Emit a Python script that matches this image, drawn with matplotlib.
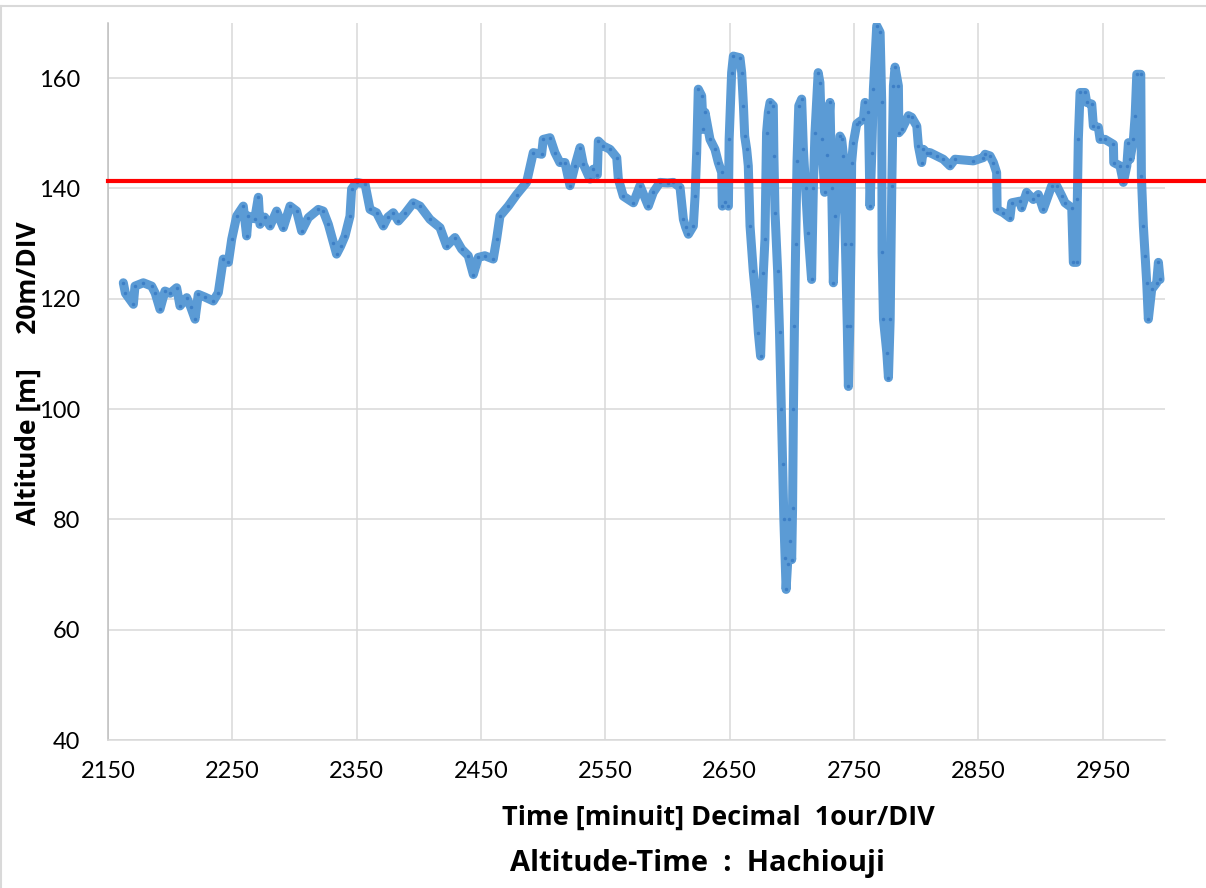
import matplotlib.pyplot as plt

plt.rcParams['font.family'] = ['Lato', 'DejaVu Sans']

# Altitude log: time [min] and altitude [m]
time_min = [
    2162.3, 2164.0, 2170.4, 2171.7, 2178.4, 2185.1, 2188.0, 2191.8, 2195.8, 2200.0,
    2205.2, 2207.9, 2213.3, 2216.5, 2220.0, 2222.6, 2228.0, 2234.7, 2238.7, 2242.7,
    2246.8, 2249.5, 2253.5, 2258.8, 2261.5, 2262.8, 2268.0, 2270.9, 2272.2, 2276.0,
    2280.3, 2285.6, 2291.0, 2296.4, 2301.7, 2305.7, 2311.1, 2319.1, 2323.1, 2327.2,
    2331.2, 2333.8, 2337.0, 2340.6, 2344.6, 2345.9, 2349.9, 2356.7, 2360.7, 2366.0,
    2371.4, 2375.0, 2379.4, 2383.5, 2389.0, 2395.5, 2400.9, 2408.9, 2417.0, 2422.3,
    2429.0, 2434.4, 2439.7, 2443.8, 2447.8, 2453.0, 2459.8, 2462.5, 2465.2, 2471.9,
    2478.6, 2486.6, 2492.0, 2498.7, 2500.0, 2505.4, 2509.4, 2513.4, 2517.5, 2521.5,
    2525.5, 2529.6, 2532.2, 2537.6, 2540.3, 2543.5, 2544.3, 2548.3, 2553.7, 2559.1,
    2560.4, 2564.4, 2572.5, 2577.8, 2584.5, 2588.5, 2593.9, 2600.0, 2604.6, 2610.0,
    2612.7, 2614.5, 2616.7, 2620.7, 2622.1, 2623.4, 2624.7, 2627.4, 2628.7, 2630.1,
    2634.1, 2638.1, 2640.8, 2643.5, 2644.0, 2646.5, 2648.9, 2649.5, 2651.5, 2652.9,
    2658.2, 2659.6, 2661.0, 2662.0, 2663.6, 2664.9, 2666.3, 2668.9, 2671.6, 2673.0,
    2674.8, 2677.0, 2678.3, 2679.6, 2681.0, 2682.4, 2685.0, 2685.5, 2686.4, 2688.5,
    2690.0, 2691.5, 2692.5, 2693.5, 2694.5, 2695.3, 2696.5, 2697.5, 2698.5, 2699.8,
    2700.5, 2701.2, 2702.0, 2703.0, 2704.1, 2705.5, 2707.8, 2709.2, 2711.0, 2713.0,
    2715.8, 2717.2, 2718.5, 2721.1, 2722.5, 2723.9, 2726.3, 2728.0, 2730.6, 2732.0,
    2733.3, 2735.0, 2738.6, 2740.0, 2741.4, 2743.0, 2744.5, 2745.4, 2746.5, 2747.5,
    2748.0, 2749.4, 2752.1, 2753.7, 2757.5, 2758.8, 2761.5, 2762.8, 2764.2, 2765.5,
    2768.2, 2770.9, 2772.2, 2772.5, 2773.6, 2776.3, 2777.6, 2779.0, 2780.3, 2781.6,
    2782.9, 2785.6, 2786.0, 2788.3, 2793.7, 2796.3, 2800.4, 2801.7, 2804.3, 2805.7,
    2808.4, 2811.0, 2816.4, 2821.7, 2827.1, 2831.1, 2845.9, 2853.9, 2855.3, 2859.3,
    2862.0, 2864.6, 2865.0, 2870.0, 2875.3, 2876.7, 2883.4, 2884.7, 2888.7, 2894.1,
    2898.1, 2902.1, 2908.9, 2912.9, 2916.9, 2919.6, 2925.0, 2926.3, 2929.0, 2929.5,
    2930.3, 2931.7, 2935.7, 2937.0, 2941.1, 2942.4, 2946.4, 2947.8, 2951.8, 2958.5,
    2958.8, 2963.8, 2966.5, 2969.3, 2970.6, 2971.9, 2974.6, 2976.0, 2977.3, 2980.5,
    2981.0, 2982.6, 2984.0, 2985.3, 2986.6, 2989.3, 2993.3, 2994.7, 2996.0,
]
altitude_m = [
    122.9, 121.0, 119.0, 122.3, 122.9, 122.3, 121.0, 118.1, 121.4, 121.0,
    122.0, 118.7, 120.2, 118.5, 116.3, 120.8, 120.3, 119.6, 121.1, 127.2,
    126.6, 130.8, 135.0, 136.8, 131.4, 135.0, 134.5, 138.4, 133.5, 134.8,
    133.2, 135.9, 132.9, 136.8, 135.9, 132.3, 134.7, 136.2, 135.9, 133.5,
    130.2, 128.1, 129.5, 131.4, 135.0, 139.9, 141.1, 140.8, 136.2, 135.6,
    133.2, 134.8, 135.6, 134.1, 135.5, 137.4, 136.8, 134.4, 132.9, 129.6,
    131.1, 129.0, 127.8, 124.4, 127.5, 127.8, 127.2, 130.8, 135.0, 136.8,
    138.9, 141.1, 146.5, 146.2, 148.9, 149.2, 146.5, 144.7, 144.7, 140.5,
    144.1, 147.4, 144.4, 141.7, 143.5, 142.5, 148.6, 147.7, 147.1, 145.6,
    141.7, 138.6, 137.4, 140.5, 136.8, 139.3, 141.1, 141.0, 141.1, 140.2,
    134.4, 133.0, 131.7, 133.2, 138.6, 146.5, 158.0, 156.8, 150.7, 153.8,
    148.9, 147.1, 144.7, 142.9, 136.8, 137.5, 136.8, 148.9, 161.0, 164.0,
    163.7, 161.0, 155.0, 149.5, 147.1, 144.1, 133.2, 125.0, 118.7, 113.8,
    109.6, 124.7, 130.8, 150.1, 153.8, 155.6, 155.0, 145.9, 135.6, 125.0,
    114.0, 100.0, 90.0, 80.0, 73.0, 67.3, 72.0, 80.0, 76.0, 72.7,
    82.0, 100.0, 115.0, 130.0, 145.0, 155.0, 156.2, 147.1, 140.0, 132.0,
    123.5, 140.0, 150.0, 161.0, 159.2, 148.9, 139.3, 146.0, 155.6, 140.0,
    122.9, 135.0, 149.5, 148.9, 145.9, 130.0, 115.0, 104.1, 115.0, 130.0,
    144.7, 148.3, 151.7, 152.0, 152.6, 155.6, 153.8, 136.8, 146.5, 158.0,
    169.5, 168.3, 155.6, 128.4, 116.3, 110.2, 105.7, 116.3, 140.5, 158.6,
    162.0, 158.6, 150.1, 150.7, 153.2, 152.9, 151.3, 147.7, 144.7, 147.1,
    146.5, 146.5, 145.9, 145.3, 144.1, 145.3, 145.0, 145.6, 146.2, 145.9,
    144.7, 142.9, 136.2, 135.6, 134.7, 137.4, 137.7, 136.5, 139.3, 138.0,
    138.9, 136.2, 140.5, 140.5, 138.7, 137.4, 136.5, 126.6, 126.6, 138.0,
    148.9, 157.4, 157.4, 155.6, 155.3, 151.3, 151.1, 148.9, 148.9, 148.0,
    144.7, 144.1, 141.1, 144.1, 148.3, 145.3, 148.9, 153.2, 160.7, 160.7,
    142.3, 133.2, 127.8, 122.9, 116.3, 121.7, 122.9, 126.6, 123.5,
]

# reference level (red line)
ref_x = [2150, 3040]
ref_y = [141.3, 141.3]

x_ticks = [2150, 2250, 2350, 2450, 2550, 2650, 2750, 2850, 2950]
y_ticks = [40, 60, 80, 100, 120, 140, 160]

fig = plt.figure(figsize=(12.06, 8.88), dpi=100)
ax = fig.add_axes([108 / 1206, 1 - 740 / 888, (1165 - 108) / 1206, (740 - 23) / 888])

ax.plot(time_min, altitude_m, color='#5B9BD5', linewidth=6.5,
        solid_joinstyle='round', solid_capstyle='round', zorder=3)
ax.plot(time_min, altitude_m, linestyle='none', marker='o', markersize=2.5,
        markerfacecolor='#3D7FC6', markeredgecolor='none', zorder=4)
ax.plot(ref_x, ref_y, color='#FF0000', linewidth=3, clip_on=False, zorder=5)

ax.set_xlim(2150, 3000)
ax.set_ylim(40, 170)
ax.set_xticks(x_ticks)
ax.set_yticks(y_ticks)
ax.grid(True, color='#D9D9D9', linewidth=1.1)
ax.set_axisbelow(True)
ax.tick_params(length=0, labelsize=17, colors='black')
ax.tick_params(axis='y', pad=20)
ax.tick_params(axis='x', pad=15)

for side in ['top', 'right']:
    ax.spines[side].set_visible(False)
ax.spines['left'].set_color('#BFBFBF')
ax.spines['bottom'].set_color('#D9D9D9')
ax.spines['left'].set_linewidth(1.1)
ax.spines['bottom'].set_linewidth(1.1)

# axis titles placed like the original chart
bold_font = ['Open Sans', 'DejaVu Sans']
fig.text(28.5 / 1206, 1 - 373 / 888, 'Altitude [m]     20m/DIV', rotation=90,
         ha='center', va='center', fontsize=19, fontweight='bold', family=bold_font)
fig.text(718 / 1206, 1 - 818 / 888, 'Time [minuit] Decimal  1our/DIV',
         ha='center', va='center', fontsize=19.5, fontweight='bold', family=bold_font)
fig.text(697 / 1206, 1 - 863 / 888, 'Altitude-Time  :  Hachiouji',
         ha='center', va='center', fontsize=21, fontweight='bold', family=bold_font)

# light chart border
fig.add_artist(plt.Line2D([0, 1], [1 - 6 / 888, 1 - 6 / 888], transform=fig.transFigure,
                          color='#D9D9D9', linewidth=1.5))
fig.add_artist(plt.Line2D([1 / 1206, 1 / 1206], [0, 1 - 6 / 888], transform=fig.transFigure,
                          color='#D9D9D9', linewidth=1.5))

fig.savefig('out.png', dpi=100)
plt.close(fig)
